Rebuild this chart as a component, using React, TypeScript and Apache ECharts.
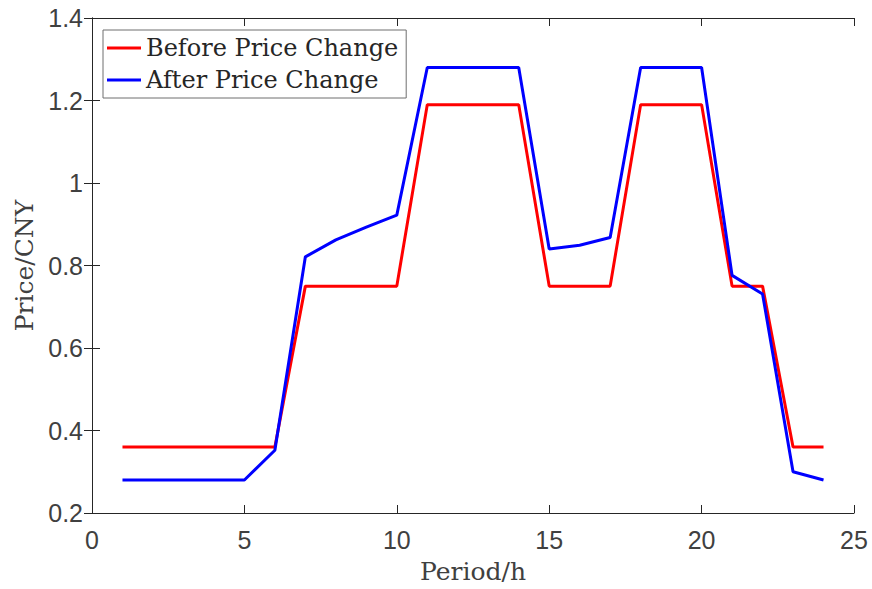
import React, { useEffect, useRef } from "react";
import * as echarts from "echarts";

const hours = [1, 2, 3, 4, 5, 6, 7, 8, 9, 10, 11, 12, 13, 14, 15, 16, 17, 18, 19, 20, 21, 22, 23, 24];
const beforePrice = [0.36, 0.36, 0.36, 0.36, 0.36, 0.36, 0.75, 0.75, 0.75, 0.75, 1.19, 1.19, 1.19, 1.19, 0.75, 0.75, 0.75, 1.19, 1.19, 1.19, 0.75, 0.75, 0.36, 0.36];
const afterPrice = [0.28, 0.28, 0.28, 0.28, 0.28, 0.352, 0.821, 0.862, 0.893, 0.922, 1.28, 1.28, 1.28, 1.28, 0.84, 0.849, 0.868, 1.28, 1.28, 1.28, 0.776, 0.731, 0.30, 0.28];
const seriesNames = ["Before Price Change", "After Price Change"];
const xTicks = { min: 0, max: 25, interval: 5 };
const yTicks = { min: 0.2, max: 1.4, interval: 0.2 };

export default function App() {
  const ref = useRef<HTMLDivElement>(null);
  useEffect(() => {
    if (!ref.current) return;
    const chart = echarts.init(ref.current, undefined, { renderer: "svg" });
    const axisLine = { show: true, lineStyle: { color: "#262626", width: 1 } };
    const axisTick = { show: true, inside: true, length: 8, lineStyle: { color: "#262626", width: 1 } };
    const labelStyle = { color: "#404040", fontFamily: "Liberation Sans, Arial, sans-serif", fontSize: 25 };
    const nameStyle = { color: "#404040", fontFamily: "DejaVu Serif, serif", fontSize: 25 };
    chart.setOption({
      animation: false,
      backgroundColor: "#ffffff",
      grid: { left: 92, right: 18, top: 18, bottom: 76, containLabel: false, outerBoundsMode: "none" },
      legend: {
        orient: "vertical",
        left: 103,
        top: 30,
        padding: [4, 8, 4, 4],
        itemGap: 4,
        itemWidth: 34,
        itemHeight: 3,
        icon: "rect",
        backgroundColor: "#ffffff",
        borderColor: "#6e6e6e",
        borderWidth: 1,
        borderRadius: 0,
        data: seriesNames,
        textStyle: { color: "#262626", fontFamily: "DejaVu Serif, serif", fontSize: 24, lineHeight: 28 },
      },
      xAxis: [
        {
          type: "value",
          min: xTicks.min,
          max: xTicks.max,
          interval: xTicks.interval,
          name: "Period/h",
          nameLocation: "middle",
          nameGap: 46,
          nameTextStyle: nameStyle,
          axisLine,
          axisTick,
          splitLine: { show: false },
          axisLabel: { ...labelStyle, margin: 14 },
        },
        {
          type: "value",
          position: "top",
          min: xTicks.min,
          max: xTicks.max,
          interval: xTicks.interval,
          axisLine,
          axisTick,
          splitLine: { show: false },
          axisLabel: { show: false },
        },
      ],
      yAxis: [
        {
          type: "value",
          min: yTicks.min,
          max: yTicks.max,
          interval: yTicks.interval,
          name: "Price/CNY",
          nameLocation: "middle",
          nameGap: 50,
          nameTextStyle: nameStyle,
          axisLine,
          axisTick,
          splitLine: { show: false },
          axisLabel: { ...labelStyle, margin: 9 },
        },
        {
          type: "value",
          position: "right",
          min: yTicks.min,
          max: yTicks.max,
          interval: yTicks.interval,
          axisLine,
          axisTick,
          splitLine: { show: false },
          axisLabel: { show: false },
        },
      ],
      series: [
        {
          name: seriesNames[0],
          type: "line",
          symbol: "none",
          xAxisIndex: 0,
          yAxisIndex: 0,
          lineStyle: { color: "#ff0000", width: 3 },
          itemStyle: { color: "#ff0000" },
          data: hours.map((h, i) => [h, beforePrice[i]]),
        },
        {
          name: seriesNames[1],
          type: "line",
          symbol: "none",
          xAxisIndex: 0,
          yAxisIndex: 0,
          lineStyle: { color: "#0000ff", width: 3 },
          itemStyle: { color: "#0000ff" },
          data: hours.map((h, i) => [h, afterPrice[i]]),
        },
      ],
    });
    return () => chart.dispose();
  }, []);
  return <div ref={ref} style={{ position: "fixed", left: 0, top: 0, width: 872, height: 589 }} />;
}
